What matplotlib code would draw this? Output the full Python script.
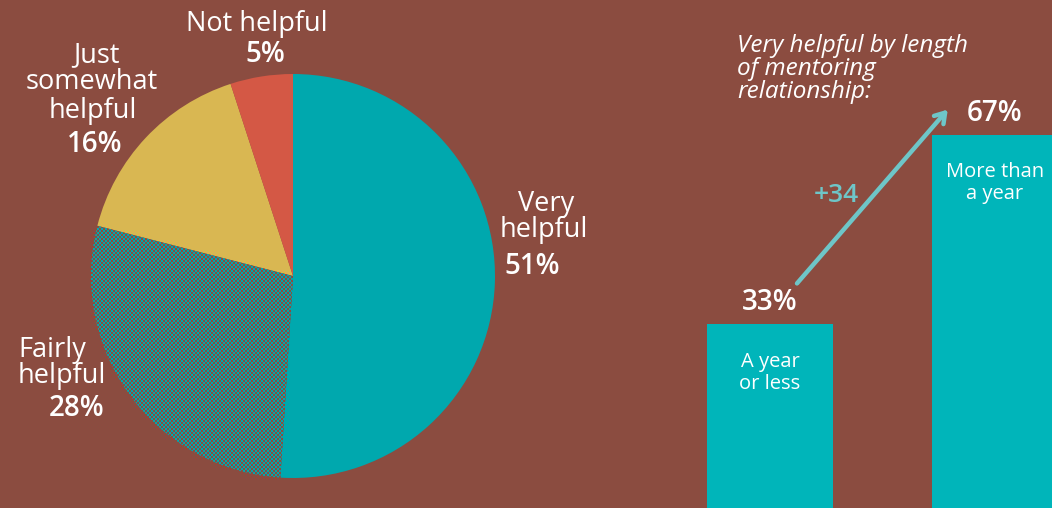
import matplotlib
matplotlib.use('Agg')
import matplotlib.pyplot as plt
import matplotlib.colors as mcolors
import numpy as np

# ---- data ----
categories = ['Very helpful', 'Fairly helpful', 'Just somewhat helpful', 'Not helpful']
shares = [51, 28, 16, 5]
bar_labels = ['A year\nor less', 'More than\na year']
bar_values = [33, 67]
change_label = '+34'
title_lines = ['Very helpful by length', 'of mentoring', 'relationship:']

# ---- style ----
BG = '#8B4C40'
TEAL = '#00A8AE'
BAR = '#00B5BA'
YEL = '#D9B752'
RED = '#D45845'
ARROW = '#6EC6C8'
FONT = 'Open Sans'

plt.rcParams['font.family'] = [FONT, 'DejaVu Sans']

W, H = 1052, 508
fig = plt.figure(figsize=(W / 100, H / 100), dpi=100, facecolor=BG)


def fx(x):
    return x / W


def fy(y):
    return 1 - y / H


# ---- pie ----
ax = fig.add_axes([fx(91), (H - 478) / H, 404 / W, 404 / H])
wedges, _ = ax.pie(shares, colors=[TEAL, BG, YEL, RED], startangle=90,
                   counterclock=False, radius=1,
                   wedgeprops=dict(linewidth=0))
# dotted texture for "Fairly helpful"
n = 404
ii, jj = np.mgrid[0:n, 0:n]
mask = ((ii // 2 + jj // 2) % 2 == 0)
img = np.zeros((n, n, 3))
img[mask] = mcolors.to_rgb(TEAL)
img[~mask] = mcolors.to_rgb(BG)
im = ax.imshow(img, extent=(-1, 1, -1, 1), interpolation='nearest', zorder=3)
im.set_clip_path(wedges[1])
ax.set_xlim(-1, 1)
ax.set_ylim(-1, 1)
ax.set_aspect('equal')
ax.axis('off')

LBL = 19.5
PCT = 20
PW = 'semibold'
# Very helpful
fig.text(fx(546), fy(204), 'Very', color='white', fontsize=LBL, ha='center', va='center')
fig.text(fx(544), fy(230), 'helpful', color='white', fontsize=LBL, ha='center', va='center')
fig.text(fx(532), fy(266), f'{shares[0]}%', color='white', fontsize=PCT, ha='center', va='center', weight=PW)
# Fairly helpful
fig.text(fx(18), fy(350), 'Fairly', color='white', fontsize=LBL, ha='left', va='center')
fig.text(fx(18), fy(376), 'helpful', color='white', fontsize=LBL, ha='left', va='center')
fig.text(fx(49), fy(408), f'{shares[1]}%', color='white', fontsize=PCT, ha='left', va='center', weight=PW)
# Just somewhat helpful
fig.text(fx(96), fy(55), 'Just', color='white', fontsize=LBL, ha='center', va='center')
fig.text(fx(92), fy(82), 'somewhat', color='white', fontsize=LBL, ha='center', va='center')
fig.text(fx(93), fy(111), 'helpful', color='white', fontsize=LBL, ha='center', va='center')
fig.text(fx(95), fy(145), f'{shares[2]}%', color='white', fontsize=PCT, ha='center', va='center', weight=PW)
# Not helpful
fig.text(fx(257), fy(24), 'Not helpful', color='white', fontsize=LBL, ha='center', va='center')
fig.text(fx(265), fy(55), f'{shares[3]}%', color='white', fontsize=PCT, ha='center', va='center', weight=PW)

# ---- bars ----
axb = fig.add_axes([fx(650), 0, (W - 650) / W, 1])
axb.set_facecolor('none')
xs = np.arange(len(bar_values))
axb.bar(xs, bar_values, width=0.56, color=BAR, linewidth=0)
axb.set_xlim(-0.533, 1.253)
axb.set_ylim(0, 91.16)
axb.axis('off')

for x, v, lab in zip(xs, bar_values, bar_labels):
    axb.annotate(f'{v}%', (x, v), xytext=(0, 5), textcoords='offset points',
                 ha='center', va='bottom', color='white', fontsize=PCT, weight=PW)
    axb.annotate(lab, (x, v), xytext=(0, -20), textcoords='offset points',
                 ha='center', va='top', color='white', fontsize=14.5, linespacing=1.12)

axb.annotate('', xy=(xs[1] - 0.21, bar_values[1] + 4.5),
             xytext=(xs[0] + 0.12, bar_values[0] + 7.3),
             arrowprops=dict(arrowstyle='->,head_length=0.7,head_width=0.45',
                             color=ARROW, lw=3.2, shrinkA=0, shrinkB=0))
fig.text(fx(836), fy(196), change_label, color=ARROW, fontsize=19, ha='center', va='center', weight=PW)

# title
for txt, base in zip(title_lines, [52, 75, 98]):
    fig.text(fx(737), fy(base), txt, color='white', fontsize=17.5, style='italic',
             ha='left', va='baseline')

fig.savefig('out.png', dpi=100, facecolor=BG)
